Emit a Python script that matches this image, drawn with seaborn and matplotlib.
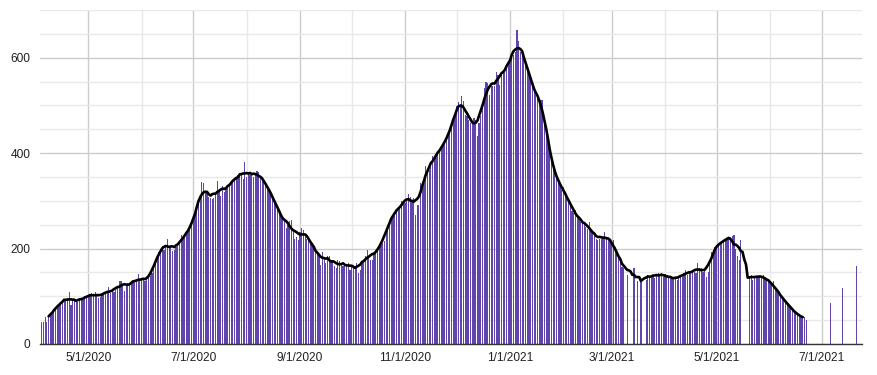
import numpy as np
import pandas as pd
import matplotlib
matplotlib.use("Agg")
import matplotlib.pyplot as plt
import matplotlib.dates as mdates
from matplotlib.ticker import MultipleLocator, FixedLocator, FuncFormatter
import seaborn as sns

N = np.nan
start_date = "2020-04-04"

apr20 = [47, 47, 56, 47, 58, 62, 66, 70, 74, 80, 83, 87, 89, 91, 93, 96, 110, 82, 90, 93, 91, 88, 96, 92, 95, 100, 97]
may20 = [98, 104, 106, 103, 108, 100, 96, 99, 106, 104, 107, 110, 120, 106, 111, 108, 113, 117, 132, 132, 124, 112, 126, 127, 124, 127, 129, 131, 134, 147, 131]
jun20 = [134, 136, 131, 138, 140, 142, 148, 160, 176, 183, 192, 200, 206, 196, 208, 220, 203, 205, 194, 198, 204, 208, 211, 228, 220, 224, 229, 236, 243, 250]
jul20 = [262, 271, 281, 296, 305, 340, 338, 321, 316, 309, 305, 303, 306, 317, 342, 323, 310, 331, 319, 324, 331, 337, 335, 340, 347, 351, 354, 352, 358, 346, 381]
aug20 = [351, 360, 354, 358, 351, 354, 363, 360, 352, 347, 340, 337, 330, 323, 319, 309, 302, 292, 281, 278, 271, 264, 257, 243, 250, 257, 260, 239, 221, 224, 219]
sep20 = [235, 243, 239, 226, 221, 224, 219, 211, 201, 197, 190, 184, 166, 192, 180, 170, 184, 184, 176, 173, 163, 159, 176, 173, 166, 163, 170, 166, 170, 155]
oct20 = [163, 166, 159, 170, 149, 155, 173, 176, 184, 197, 183, 176, 176, 190, 197, 201, 204, 208, 211, 216, 239, 250, 260, 267, 271, 274, 278, 281, 288, 299, 294]
nov20 = [295, 306, 315, 309, 302, 306, 271, 292, 292, 337, 327, 337, 373, 365, 365, 376, 393, 387, 396, 400, 407, 410, 417, 421, 428, 438, 445, 456, 470, 477]
dec20 = [498, 508, 503, 520, 510, 480, 477, 470, 464, 463, 473, 470, 435, 463, 477, 494, 536, 550, 547, 522, 540, 540, 540, 571, 564, 543, 564, 571, 578, 582, 589]
jan21 = [596, 599, 606, 613, 659, 634, 613, 613, 603, 592, 582, 568, 557, 540, 529, 522, 515, 508, 512, 512, 470, 449, 424, 400, 386, 372, 358, 347, 340, 333, 323]
feb21 = [330, 316, 309, 302, 295, 278, 274, 281, 267, 263, 256, 260, 253, 246, 242, 256, 239, 232, 232, 221, 217, 221, 221, 225, 235, 225, 217, 217]
mar21 = [211, 218, 204, 190, 180, 173, 162, 159, N, 145, N, N, N, 159, N, 131, N, 131, N, N, 134, 145, 141, 145, 143, 138, 145, 148, 145, 148, 140]
apr21 = [147, 143, 138, 141, 136, 141, 138, 134, 138, 145, 141, 148, 155, 145, 148, 151, 155, 151, 148, 169, 159, 159, 151, 155, 141, 151, 172, 193, 197, 203]
may21 = [204, 208, 211, 215, 218, 218, 221, 221, 224, 226, 229, 200, 185, 176, 218, N, N, N, N, 138, 145, 134, 141, 143, 140, 141, 143, 145, 138, 136, 134]
jun21 = [127, 124, 131, 117, 113, 106, 103, 96, 92, 89, 85, 80, 77, 73, 68, 64, 61, 57, 58, 57, 56, 50, N, N, N, N, N, N, N, N]
jul21 = [N, N, N, N, N, 86, N, N, N, N, N, N, 118, N, N, N, N, N, N, N, 164]

daily = (apr20 + may20 + jun20 + jul20 + aug20 + sep20 + oct20 + nov20 + dec20
         + jan21 + feb21 + mar21 + apr21 + may21 + jun21 + jul21)
dates = pd.date_range(start_date, periods=len(daily), freq="D")
series = pd.Series(daily, index=dates, dtype=float)

avg_last_input = "2021-06-22"
avg = series.loc[:avg_last_input].rolling(7, center=True, min_periods=1).mean()
avg = avg.loc["2020-04-08":"2021-06-20"]
line_df = pd.DataFrame({"date": avg.index, "avg": avg.values})

sns.set_theme(style="white")
plt.rcParams["font.family"] = ["Liberation Sans", "DejaVu Sans"]

fig = plt.figure(figsize=(8.78, 3.75), dpi=100)
ax = fig.add_axes([40 / 878, 1 - 344 / 375, (861.7 - 40) / 878, (344 - 10) / 375])

bar_color = "#5f45ad"
ax.bar(series.index, series.values, width=0.68, color=bar_color, linewidth=0, zorder=2)
sns.lineplot(data=line_df, x="date", y="avg", color="black", linewidth=1.9, ax=ax, zorder=3)

ax.set_xlim(mdates.date2num(pd.Timestamp("2020-04-03 00:00")),
            mdates.date2num(pd.Timestamp("2021-07-24 05:00")))
ax.set_ylim(0, 700)

ax.yaxis.set_major_locator(FixedLocator([0, 200, 400, 600]))
ax.yaxis.set_minor_locator(MultipleLocator(50))
ax.xaxis.set_major_locator(mdates.MonthLocator(bymonth=[1, 3, 5, 7, 9, 11]))
ax.xaxis.set_minor_locator(mdates.MonthLocator())
ax.xaxis.set_major_formatter(FuncFormatter(
    lambda v, p: (lambda d: f"{d.month}/{d.day}/{d.year}")(mdates.num2date(v))))

ax.grid(which="major", color="#cccccc", linewidth=1.0, zorder=0)
ax.grid(which="minor", color="#e8e8e8", linewidth=1.0, zorder=0)
ax.set_axisbelow(True)

ax.tick_params(axis="both", which="both", length=0, labelsize=8.6, colors="#222222")
ax.tick_params(axis="y", pad=7)
ax.tick_params(axis="x", pad=6)
for side in ["top", "right", "left"]:
    ax.spines[side].set_visible(False)
ax.spines["bottom"].set_color("#333333")
ax.spines["bottom"].set_linewidth(1.0)
ax.set_xlabel("")
ax.set_ylabel("")

fig.savefig("out.png", dpi=100)
